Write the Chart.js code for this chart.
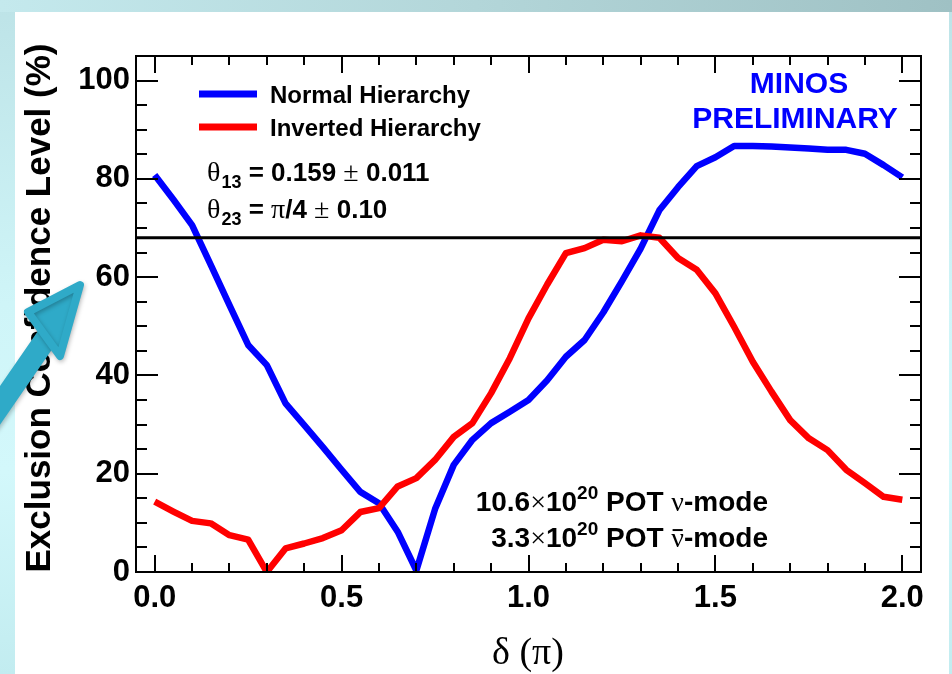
<!DOCTYPE html>
<html><head><meta charset="utf-8">
<script src="https://cdn.jsdelivr.net/npm/chart.js@4.4.1/dist/chart.umd.min.js"></script>
<style>
html,body{margin:0;padding:0;background:#fff;}
#wrap{position:relative;width:952px;height:674px;overflow:hidden;
 background:linear-gradient(to bottom,#bde3e7 0%,#cff5f8 45%,#d3f8fb 70%,#c2ecf0 100%);}
#topbar{position:absolute;left:0;top:0;width:952px;height:12px;
 background:linear-gradient(to right,#c4e9ed 0%,#b3d6d9 50%,#9fc1c4 100%);}
#panel{position:absolute;left:15px;top:12px;width:934px;height:662px;background:#fff;}
canvas{position:absolute;left:0;top:0;}
</style></head>
<body>
<div id="wrap"><div id="topbar"></div><div id="panel"></div>
<canvas id="c" width="952" height="674"></canvas></div>
<script>
// ---- data ----
const deltaPi = [0.00,0.05,0.10,0.15,0.20,0.25,0.30,0.35,0.40,0.45,0.50,0.55,0.60,0.65,0.70,0.75,0.80,0.85,0.90,0.95,
                 1.00,1.05,1.10,1.15,1.20,1.25,1.30,1.35,1.40,1.45,1.50,1.55,1.60,1.65,1.70,1.75,1.80,1.85,1.90,1.95,2.00];
const normalHierarchy = [80.8,75.8,70.6,62.5,54.3,46.2,42.1,34.3,29.9,25.4,20.8,16.3,14.0,8.2,0.3,12.8,21.8,26.9,30.3,32.6,
                 35.0,39.0,43.8,47.2,52.8,59.2,65.8,73.6,78.3,82.6,84.4,86.7,86.7,86.6,86.4,86.2,85.9,85.9,85.1,82.8,80.3];
const invertedHierarchy = [14.3,12.3,10.4,9.9,7.5,6.6,0.0,4.8,5.8,6.9,8.5,12.2,13.0,17.4,19.1,22.8,27.5,30.3,36.4,43.5,
                 51.6,58.5,64.9,65.9,67.6,67.3,68.5,68.0,63.9,61.5,56.7,49.9,42.8,36.7,30.9,27.2,24.8,20.8,18.1,15.3,14.7];
const clLevel = 68;
const xRange = [-0.05, 2.05];
const yRange = [0, 105];
const xTickLabels = [0.0, 0.5, 1.0, 1.5, 2.0];
const yTickLabels = [0, 20, 40, 60, 80, 100];
const seriesNames = ['Normal Hierarchy', 'Inverted Hierarchy'];

const SANS = "'Liberation Sans', Arial, Helvetica, sans-serif";
const SERIF = "'Liberation Serif', 'Times New Roman', serif";

function pts(ys){ return deltaPi.map((x,i)=>({x:x,y:ys[i]})); }

function drawRuns(ctx, x, y, runs, align){
  let total = 0;
  runs.forEach(r=>{ ctx.font = r.f; r.w = ctx.measureText(r.t).width + (r.gap||0); total += r.w; });
  let cx = align === 'right' ? x - total : (align === 'center' ? x - total/2 : x);
  ctx.textAlign = 'left'; ctx.textBaseline = 'alphabetic';
  runs.forEach(r=>{
    ctx.font = r.f; ctx.fillStyle = r.c || '#000';
    ctx.fillText(r.t, cx, y + (r.dy||0));
    if (r.bar){ ctx.fillRect(cx + r.w*0.1, y - r.size*0.64, r.w*0.8, Math.max(1.5, r.size*0.07)); }
    cx += r.w;
  });
}

const framePlugin = {
  id: 'frame',
  afterDatasetsDraw(chart){
    const ctx = chart.ctx, a = chart.chartArea;
    const xs = chart.scales.x, ys = chart.scales.y;
    ctx.save();
    ctx.strokeStyle = '#000'; ctx.lineWidth = 2;
    ctx.strokeRect(a.left, a.top, a.right - a.left, a.bottom - a.top);
    ctx.beginPath();
    for (let k = 0; k <= 20; k++){
      const v = k/10, px = Math.round(xs.getPixelForValue(v));
      const len = (k % 5 === 0) ? 17 : 9;
      ctx.moveTo(px, a.bottom); ctx.lineTo(px, a.bottom - len);
      ctx.moveTo(px, a.top); ctx.lineTo(px, a.top + len);
    }
    for (let k = 0; k <= 21; k++){
      const v = k*5; if (v > yRange[1]) break;
      const py = Math.round(ys.getPixelForValue(v));
      const len = (k % 4 === 0) ? 22 : 11;
      ctx.moveTo(a.left, py); ctx.lineTo(a.left + len, py);
      ctx.moveTo(a.right, py); ctx.lineTo(a.right - len, py);
    }
    ctx.stroke();
    ctx.restore();
  },
  afterDraw(chart){
    const ctx = chart.ctx;
    const ds = chart.data.datasets;
    ctx.save();
    // legend
    const legY = [94, 127];
    [0,1].forEach(i=>{
      ctx.strokeStyle = ds[i].borderColor; ctx.lineWidth = 7; ctx.lineCap = 'butt';
      ctx.beginPath(); ctx.moveTo(199, legY[i]); ctx.lineTo(257, legY[i]); ctx.stroke();
      ctx.font = 'bold 24px ' + SANS; ctx.fillStyle = '#000';
      ctx.textAlign = 'left'; ctx.textBaseline = 'alphabetic';
      ctx.fillText(seriesNames[i], 270, legY[i] + 8.5);
    });
    // theta text
    const B = 'bold 26px ' + SANS, S = '28px ' + SERIF, SUB = 'bold 18px ' + SANS;
    drawRuns(ctx, 207, 181, [
      {t:'\u03B8', f:S, gap:1}, {t:'13', f:SUB, dy:7}, {t:' = 0.159 ', f:B},
      {t:'\u00B1', f:S}, {t:' 0.011', f:B}], 'left');
    drawRuns(ctx, 207, 218, [
      {t:'\u03B8', f:S, gap:1}, {t:'23', f:SUB, dy:7}, {t:' = ', f:B}, {t:'\u03C0', f:S},
      {t:'/4 ', f:B}, {t:'\u00B1', f:S}, {t:' 0.10', f:B}], 'left');
    // MINOS PRELIMINARY
    ctx.font = 'bold 30px ' + SANS; ctx.fillStyle = '#0000ff'; ctx.textAlign = 'center';
    ctx.fillText('MINOS', 799, 93);
    ctx.fillText('PRELIMINARY', 795, 128);
    // POT text
    const B2 = 'bold 28px ' + SANS, S2 = '28px ' + SERIF, SUP = 'bold 19px ' + SANS;
    drawRuns(ctx, 768, 511, [
      {t:'10.6', f:B2}, {t:'\u00D7', f:S2}, {t:'10', f:B2}, {t:'20', f:SUP, dy:-12},
      {t:' POT ', f:B2}, {t:'\u03BD', f:S2}, {t:'-mode', f:B2}], 'right');
    drawRuns(ctx, 768, 547, [
      {t:'3.3', f:B2}, {t:'\u00D7', f:S2}, {t:'10', f:B2}, {t:'20', f:SUP, dy:-12},
      {t:' POT ', f:B2}, {t:'\u03BD', f:S2, bar:true, size:28}, {t:'-mode', f:B2}], 'right');
    // axis titles
    ctx.fillStyle = '#000';
    ctx.font = '38px ' + SERIF; ctx.textAlign = 'center'; ctx.textBaseline = 'alphabetic';
    ctx.fillText('\u03B4 (\u03C0)', 528, 664);
    ctx.translate(50, 308); ctx.rotate(-Math.PI/2);
    ctx.font = 'bold 35px ' + SANS;
    ctx.fillText('Exclusion Confidence Level (%)', 0, 0);
    ctx.restore();
    // decorative arrow
    ctx.save();
    ctx.fillStyle = '#2faac8'; ctx.strokeStyle = '#2faac8';
    ctx.shadowColor = 'rgba(0,0,0,0.25)'; ctx.shadowBlur = 4; ctx.shadowOffsetX = 1; ctx.shadowOffsetY = 2;
    ctx.lineWidth = 22; ctx.lineCap = 'round';
    ctx.beginPath(); ctx.moveTo(-10, 420); ctx.lineTo(52, 330); ctx.stroke();
    ctx.beginPath(); ctx.moveTo(80, 285); ctx.lineTo(28, 312); ctx.lineTo(60, 356); ctx.closePath(); ctx.fill();
    ctx.lineWidth = 8; ctx.lineJoin = 'round'; ctx.stroke();
    ctx.restore();
  }
};

new Chart(document.getElementById('c'), {
  type: 'line',
  data: { datasets: [
    { label: seriesNames[0], data: pts(normalHierarchy), borderColor: '#0000ff', borderWidth: 6.5,
      pointRadius: 0, tension: 0, fill: false, order: 3, borderJoinStyle: 'round' },
    { label: seriesNames[1], data: pts(invertedHierarchy), borderColor: '#ff0000', borderWidth: 6.5,
      pointRadius: 0, tension: 0, fill: false, order: 2, borderJoinStyle: 'round' },
    { label: '68% CL', data: [{x:xRange[0], y:clLevel},{x:xRange[1], y:clLevel}], borderColor: '#000',
      borderWidth: 3, pointRadius: 0, fill: false, order: 1 }
  ]},
  options: {
    responsive: false, animation: false, devicePixelRatio: 1,
    layout: { padding: { left: 0, top: 56, right: 31, bottom: 0 } },
    plugins: { legend: { display: false }, tooltip: { enabled: false } },
    scales: {
      x: { type: 'linear', min: xRange[0], max: xRange[1], bounds: 'data',
        grid: { display: false, drawTicks: false }, border: { display: false },
        ticks: { color: '#000', font: { family: SANS, size: 31, weight: 'bold' }, padding: 8,
          maxRotation: 0, autoSkip: false, callback: v => Number(v).toFixed(1) },
        afterBuildTicks: s => { s.ticks = xTickLabels.map(v => ({ value: v })); },
        afterFit: s => { s.height = 102; s.paddingLeft = 0; s.paddingRight = 0; } },
      y: { type: 'linear', min: yRange[0], max: yRange[1], bounds: 'data',
        grid: { display: false, drawTicks: false }, border: { display: false },
        ticks: { color: '#000', font: { family: SANS, size: 31, weight: 'bold' }, padding: 6,
          autoSkip: false, callback: v => String(v) },
        afterBuildTicks: s => { s.ticks = yTickLabels.map(v => ({ value: v })); },
        afterFit: s => { s.width = 136; s.paddingTop = 0; s.paddingBottom = 0; } }
    }
  },
  plugins: [framePlugin]
});
</script>
</body></html>
